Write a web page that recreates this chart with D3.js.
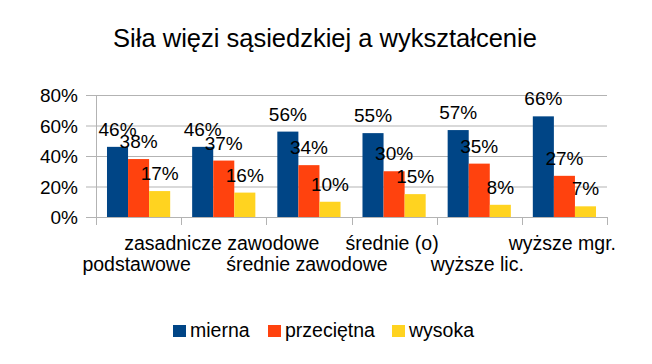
<!DOCTYPE html>
<html><head><meta charset="utf-8">
<script src="https://cdn.jsdelivr.net/npm/d3@7"></script>
<style>
html,body{margin:0;padding:0;background:#fff;}
text{font-family:"Liberation Sans",Arial,sans-serif;fill:#000;}
</style></head>
<body>
<svg id="chart" width="652" height="364"></svg>
<script>
const title = "Siła więzi sąsiedzkiej a wykształcenie";
const categories = ["podstawowe","zasadnicze zawodowe","średnie zawodowe","średnie (o)","wyższe lic.","wyższe mgr."];
const seriesNames = ["mierna","przeciętna","wysoka"];
const mierna = [46,46,56,55,57,66];
const przecietna = [38,37,34,30,35,27];
const wysoka = [17,16,10,15,8,7];
const yTicks = [0,20,40,60,80];
const colors = ["#004586","#ff420e","#ffd320"];

const series = [mierna, przecietna, wysoka];
const svg = d3.select("#chart");
const m = {left:96, right:607, top:95, bottom:217};

const x = d3.scaleBand().domain(categories).range([m.left, m.right]).paddingInner(0.258).paddingOuter(0.129);
const xs = d3.scaleBand().domain(seriesNames).range([0, x.bandwidth()]);
const y = d3.scaleLinear().domain([0,80]).range([m.bottom, m.top]);
const step = (m.right - m.left)/categories.length;

// title
svg.append("text").attr("x",325).attr("y",47).attr("text-anchor","middle")
  .style("font-size","25.5px").text(title);

// gridlines + left ticks
svg.append("g").selectAll("line").data(yTicks).join("line")
  .attr("x1",m.left-10).attr("x2",m.right)
  .attr("y1",d=>y(d)+0.5).attr("y2",d=>y(d)+0.5)
  .attr("stroke","#b3b3b3").attr("stroke-width",1);
svg.append("line").attr("x1",m.left+0.5).attr("x2",m.left+0.5)
  .attr("y1",m.top).attr("y2",m.bottom+8).attr("stroke","#b3b3b3");
// category ticks
const bounds = d3.range(categories.length+1).map(i=>m.left+i*step);
svg.append("g").selectAll("line").data(bounds.slice(1)).join("line")
  .attr("x1",d=>Math.round(d)+0.5).attr("x2",d=>Math.round(d)+0.5)
  .attr("y1",m.bottom).attr("y2",m.bottom+8).attr("stroke","#b3b3b3");

// y labels
svg.append("g").selectAll("text").data(yTicks).join("text")
  .attr("x",78).attr("y",d=>y(d)+7).attr("text-anchor","end")
  .style("font-size","19px").text(d=>d+"%");

// bars
const g = svg.append("g");
series.forEach((vals,si)=>{
  g.append("g").selectAll("rect").data(vals).join("rect")
    .attr("x",(d,i)=>x(categories[i])+xs(seriesNames[si]))
    .attr("width",xs.bandwidth())
    .attr("y",d=>y(d)).attr("height",d=>y(0)-y(d))
    .attr("fill",colors[si]);
});
series.forEach((vals,si)=>{
  g.append("g").selectAll("text").data(vals).join("text")
    .attr("x",(d,i)=>x(categories[i])+xs(seriesNames[si])+xs.bandwidth()/2)
    .attr("y",d=>y(d)-11).attr("text-anchor","middle")
    .style("font-size","19px").text(d=>d+"%");
});

// x labels (staggered)
svg.append("g").selectAll("text").data(categories).join("text")
  .attr("x",d=>x(d)+x.bandwidth()/2-2)
  .attr("y",(d,i)=>i%2===1?250:271).attr("text-anchor","middle")
  .style("font-size","19.5px").text(d=>d);

// legend
const legX = [173, 268, 392];
const leg = svg.append("g");
seriesNames.forEach((n,i)=>{
  leg.append("rect").attr("x",legX[i]).attr("y",325).attr("width",13).attr("height",12).attr("fill",colors[i]);
  leg.append("text").attr("x",legX[i]+17).attr("y",337).style("font-size","19.5px").text(n);
});
</script>
</body></html>
